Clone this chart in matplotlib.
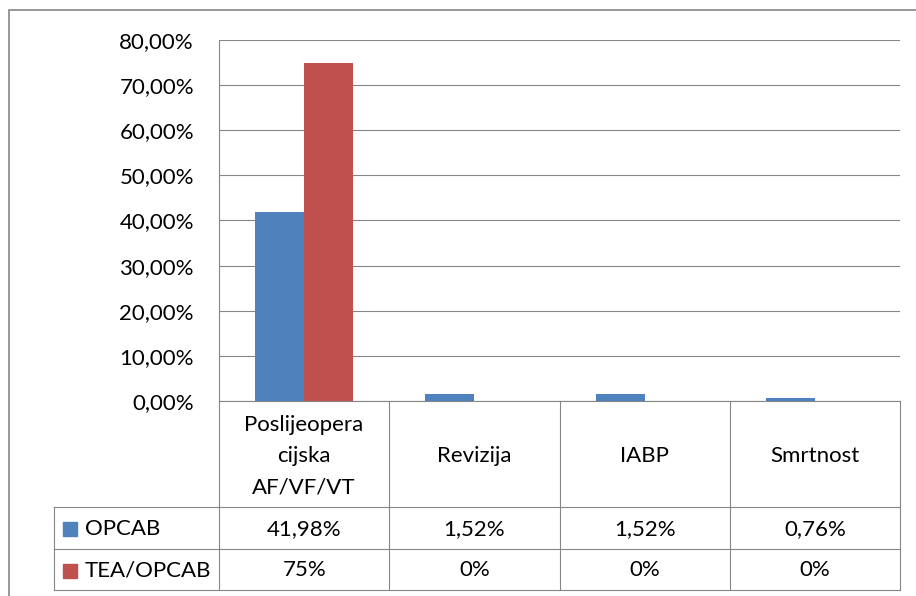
import numpy as np
import matplotlib.pyplot as plt
from matplotlib.patches import Rectangle
from matplotlib.ticker import FuncFormatter, MultipleLocator

categories = ["Poslijeopera\ncijska\nAF/VF/VT", "Revizija", "IABP", "Smrtnost"]
series_names = ["OPCAB", "TEA/OPCAB"]
opcab = [41.98, 1.52, 1.52, 0.76]
tea_opcab = [75, 0, 0, 0]

BLUE = "#4F81BD"
RED = "#C0504D"
GRID = "#868686"
FONT = "Lato"
FS = 16

W, H = 916, 596
plt.rcParams["font.family"] = [FONT, "DejaVu Sans"]


def fx(px):
    return px / W


def fy(py):
    return 1 - py / H


fig = plt.figure(figsize=(W / 100, H / 100), dpi=100)

# plot area in pixel positions
pl, pr, pt, pb = 219, 900, 40, 401
ax = fig.add_axes((fx(pl), fy(pb), fx(pr - pl), (pb - pt) / H))

x = np.arange(len(categories))
bw = 0.288
ax.bar(x - bw / 2, opcab, bw, color=BLUE, zorder=3)
ax.bar(x + bw / 2, tea_opcab, bw, color=RED, zorder=3)

ax.set_xlim(-0.5, len(categories) - 0.5)
ax.set_ylim(0, 80)
ax.yaxis.set_major_locator(MultipleLocator(10))
ax.yaxis.set_major_formatter(
    FuncFormatter(lambda v, p: f"{v:.2f}".replace(".", ",") + "%")
)
ax.grid(axis="y", color=GRID, linewidth=0.8, zorder=0)
ax.set_xticks([])
ax.tick_params(axis="y", length=0, pad=18, labelsize=FS)
for s in ["top", "right"]:
    ax.spines[s].set_visible(False)
for s in ["left", "bottom"]:
    ax.spines[s].set_color(GRID)
    ax.spines[s].set_linewidth(0.8)

# data table below, same category scale
tl = 54
cat_w = (pr - pl) / len(categories)
y_hdr, y_r1, y_r2, y_end = 401, 507, 549, 590
tax = fig.add_axes((fx(tl), fy(y_end), fx(pr - tl), (y_end - y_hdr) / H))
x0 = -0.5 - (pl - tl) / cat_w
tax.set_xlim(x0, len(categories) - 0.5)
tax.set_ylim(y_end, y_hdr)
tax.axis("off")

lw = 0.8
for b in np.arange(len(categories) + 1) - 0.5:
    tax.plot([b, b], [y_hdr, y_end], color=GRID, lw=lw, clip_on=False)
tax.plot([x0, x0], [y_r1, y_end], color=GRID, lw=lw, clip_on=False)
for yy in [y_r1, y_r2, y_end]:
    tax.plot([x0, len(categories) - 0.5], [yy, yy], color=GRID, lw=lw,
             clip_on=False)

for i, c in enumerate(categories):
    tax.text(i, (y_hdr + y_r1) / 2 + 2, c, ha="center", va="center",
             fontsize=FS, linespacing=1.7)

rows = [
    (series_names[0], BLUE, [f"{v:.2f}".replace(".", ",") + "%" for v in opcab], y_r1, y_r2),
    (series_names[1], RED, [f"{v:g}%".replace(".", ",") for v in tea_opcab], y_r2, y_end),
]
for name, col, labels, ya, yb in rows:
    yc = (ya + yb) / 2
    sq = 14
    tax.add_patch(Rectangle((x0 + 9 / cat_w, yc - sq / 2 + 1), sq / cat_w, sq,
                            color=col, clip_on=False))
    tax.text(x0 + 31 / cat_w, yc + 1, name, ha="left", va="center",
             fontsize=FS)
    for i, lab in enumerate(labels):
        tax.text(i, yc + 1, lab, ha="center", va="center", fontsize=FS)

# outer chart border
fig.patches.append(Rectangle((fx(9), -0.1), 1.2, fy(10) + 0.1, fill=False,
                             edgecolor=GRID, linewidth=1.2,
                             transform=fig.transFigure, figure=fig))

fig.savefig("out.png", dpi=100)
